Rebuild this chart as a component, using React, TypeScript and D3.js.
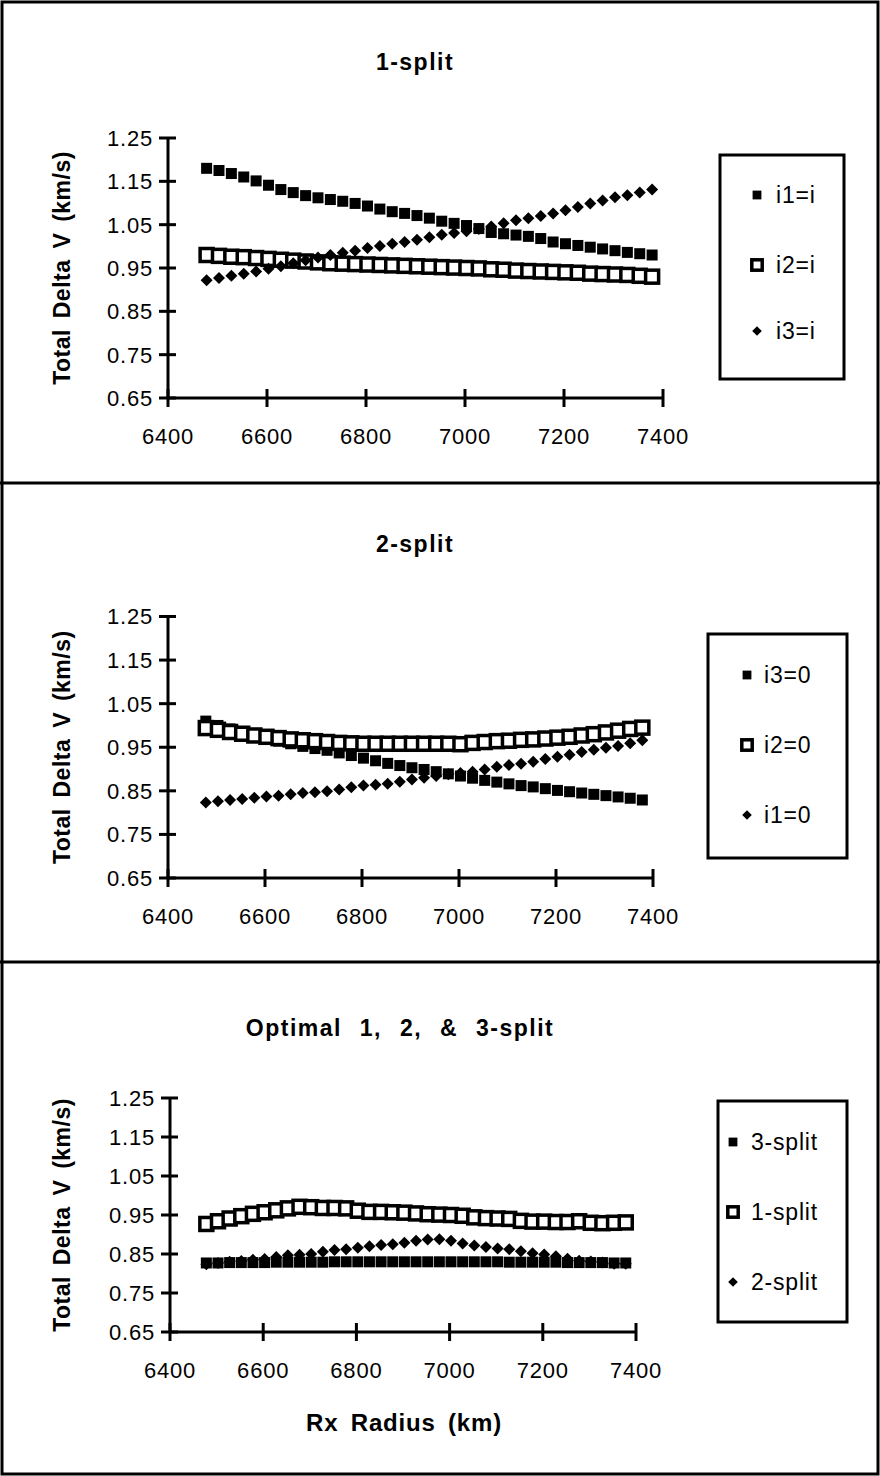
import React from 'react'
import * as d3 from 'd3'

const W = 880
const H = 1476
const FONT = "'Liberation Sans', Arial, Helvetica, sans-serif"

// Rx radius (km) of every sample, shared by all three panels
const radius = [
  6478, 6503, 6528, 6553, 6578, 6603, 6628, 6653, 6678, 6703, 6728, 6753, 6778,
  6803, 6828, 6853, 6878, 6903, 6928, 6953, 6978, 7003, 7028, 7053, 7078, 7103,
  7128, 7153, 7178, 7203, 7228, 7253, 7278, 7303, 7328, 7353, 7378,
]
const yTicks = [0.65, 0.75, 0.85, 0.95, 1.05, 1.15, 1.25]
const xTicks = [6400, 6600, 6800, 7000, 7200, 7400]

// 1-split
const i1EqI = [
  1.180, 1.175, 1.168, 1.160, 1.151, 1.141, 1.131, 1.124, 1.117, 1.112, 1.108, 1.104, 1.099,
  1.093, 1.086, 1.080, 1.076, 1.071, 1.065, 1.058, 1.053, 1.048, 1.041, 1.032, 1.029, 1.026,
  1.023, 1.018, 1.010, 1.006, 1.002, 0.998, 0.994, 0.990, 0.986, 0.983, 0.980,
]
const i2EqI = [
  0.980, 0.978, 0.976, 0.975, 0.973, 0.971, 0.969, 0.967, 0.965, 0.963, 0.961, 0.960, 0.959,
  0.958, 0.957, 0.956, 0.955, 0.954, 0.953, 0.952, 0.951, 0.950, 0.949, 0.947, 0.946, 0.944,
  0.943, 0.942, 0.941, 0.940, 0.939, 0.937, 0.936, 0.935, 0.934, 0.932, 0.930,
]
const i3EqI = [
  0.922, 0.927, 0.932, 0.937, 0.942, 0.948, 0.954, 0.961, 0.968, 0.974, 0.980, 0.985, 0.990,
  0.996, 1.001, 1.006, 1.010, 1.015, 1.021, 1.027, 1.031, 1.035, 1.040, 1.046, 1.053, 1.060,
  1.065, 1.070, 1.076, 1.083, 1.091, 1.099, 1.106, 1.113, 1.118, 1.124, 1.131,
]

// 2-split
const i3Zero = [
  1.010, 1.000, 0.992, 0.984, 0.977, 0.970, 0.964, 0.958, 0.952, 0.947, 0.943, 0.937, 0.931,
  0.925, 0.919, 0.913, 0.908, 0.903, 0.899, 0.894, 0.889, 0.884, 0.879, 0.874, 0.870, 0.866,
  0.862, 0.859, 0.855, 0.851, 0.848, 0.845, 0.842, 0.839, 0.836, 0.833, 0.829,
]
const i2Zero = [
  0.994, 0.990, 0.985, 0.981, 0.977, 0.974, 0.971, 0.968, 0.966, 0.964, 0.962, 0.960, 0.959,
  0.958, 0.958, 0.958, 0.958, 0.958, 0.958, 0.958, 0.958, 0.957, 0.960, 0.962, 0.964, 0.965,
  0.967, 0.968, 0.970, 0.972, 0.974, 0.977, 0.980, 0.984, 0.988, 0.992, 0.995,
]
const i1Zero = [
  0.823, 0.826, 0.829, 0.831, 0.834, 0.837, 0.839, 0.842, 0.845, 0.847, 0.849, 0.853, 0.858,
  0.862, 0.864, 0.866, 0.871, 0.876, 0.880, 0.884, 0.888, 0.891, 0.894, 0.899, 0.905, 0.909,
  0.912, 0.917, 0.923, 0.928, 0.933, 0.939, 0.944, 0.949, 0.953, 0.959, 0.966,
]

// Optimal 1, 2 & 3-split
const split3 = [
  0.827, 0.827, 0.828, 0.828, 0.828, 0.828, 0.829, 0.829, 0.829, 0.829, 0.829, 0.830, 0.830,
  0.830, 0.830, 0.830, 0.830, 0.830, 0.830, 0.830, 0.830, 0.830, 0.830, 0.830, 0.830, 0.830,
  0.829, 0.829, 0.829, 0.829, 0.829, 0.828, 0.828, 0.828, 0.828, 0.827, 0.827,
]
const split1 = [
  0.927, 0.934, 0.941, 0.947, 0.953, 0.957, 0.962, 0.967, 0.971, 0.970, 0.968, 0.968, 0.967,
  0.961, 0.958, 0.958, 0.957, 0.956, 0.954, 0.952, 0.951, 0.950, 0.948, 0.944, 0.942, 0.941,
  0.940, 0.935, 0.933, 0.933, 0.932, 0.932, 0.934, 0.930, 0.929, 0.930, 0.931,
]
const split2 = [
  0.824, 0.827, 0.830, 0.832, 0.835, 0.837, 0.842, 0.847, 0.848, 0.850, 0.856, 0.860, 0.862,
  0.866, 0.870, 0.873, 0.875, 0.879, 0.884, 0.887, 0.888, 0.884, 0.877, 0.872, 0.868, 0.864,
  0.862, 0.857, 0.852, 0.849, 0.844, 0.838, 0.833, 0.831, 0.828, 0.825, 0.825,
]

type Marker = 'filled' | 'hollow' | 'diamond'
type Series = { name: string; values: number[]; marker: Marker }

const panels = [
  {
    title: '1-split', titleX: 415, titleY: 70,
    left: 168, right: 663, top: 138, bottom: 398,
    legend: { x: 720, y: 155, w: 124, h: 224, mx: 757, tx: 776, rows: [195, 265, 331] },
    series: [
      { name: 'i1=i', values: i1EqI, marker: 'filled' },
      { name: 'i2=i', values: i2EqI, marker: 'hollow' },
      { name: 'i3=i', values: i3EqI, marker: 'diamond' },
    ] as Series[],
  },
  {
    title: '2-split', titleX: 415, titleY: 552,
    left: 168, right: 653, top: 616.5, bottom: 878,
    legend: { x: 708, y: 634, w: 139, h: 224, mx: 747, tx: 764, rows: [675, 745, 815] },
    series: [
      { name: 'i3=0', values: i3Zero, marker: 'filled' },
      { name: 'i2=0', values: i2Zero, marker: 'hollow' },
      { name: 'i1=0', values: i1Zero, marker: 'diamond' },
    ] as Series[],
  },
  {
    title: 'Optimal 1, 2, & 3-split', titleX: 400, titleY: 1036,
    left: 170, right: 636, top: 1098, bottom: 1332,
    legend: { x: 718, y: 1101, w: 129, h: 221, mx: 733, tx: 751, rows: [1142, 1212, 1282] },
    series: [
      { name: '3-split', values: split3, marker: 'filled' },
      { name: '1-split', values: split1, marker: 'hollow' },
      { name: '2-split', values: split2, marker: 'diamond' },
    ] as Series[],
  },
]

function Mark({ kind, x, y, s = 1 }: { kind: Marker; x: number; y: number; s?: number }) {
  if (kind === 'filled') {
    const a = 11 * s
    return <rect x={x - a / 2} y={y - a / 2} width={a} height={a} fill="black" />
  }
  if (kind === 'hollow') {
    const a = 13 * s
    return <rect x={x - a / 2} y={y - a / 2} width={a} height={a} fill="white" stroke="black" strokeWidth={3.5} />
  }
  const r = 6 * s
  return <path d={`M${x},${y - r}L${x + r},${y}L${x},${y + r}L${x - r},${y}Z`} fill="black" />
}

function Panel({ p }: { p: typeof panels[number] }) {
  const x = d3.scaleLinear().domain([6400, 7400]).range([p.left, p.right])
  const y = d3.scaleLinear().domain([0.65, 1.25]).range([p.bottom, p.top])
  const fmt = d3.format('.2f')
  const lg = p.legend
  return (
    <g>
      <text x={p.titleX} y={p.titleY} textAnchor="middle" fontWeight="bold" fontSize={23}
        letterSpacing={1.5} wordSpacing={p.title.length > 10 ? 10 : 0}>{p.title}</text>
      <text transform={`translate(70,${(p.top + p.bottom) / 2}) rotate(-90)`} textAnchor="middle"
        fontWeight="bold" fontSize={23} letterSpacing={0.5} wordSpacing={4}>Total Delta V (km/s)</text>

      {/* axes */}
      <line x1={p.left} x2={p.left} y1={y(1.25)} y2={y(0.65)} stroke="black" strokeWidth={3} />
      <line x1={p.left} x2={x(7400)} y1={p.bottom} y2={p.bottom} stroke="black" strokeWidth={3} />
      {yTicks.map(t => (
        <g key={t}>
          <line x1={p.left - 9} x2={p.left + 8} y1={y(t)} y2={y(t)} stroke="black" strokeWidth={3} />
          <text x={p.left - 15} y={y(t)} dy="0.36em" textAnchor="end" fontSize={22} letterSpacing={0.8}>{fmt(t)}</text>
        </g>
      ))}
      {xTicks.map(t => (
        <g key={t}>
          <line x1={x(t)} x2={x(t)} y1={p.bottom - 9} y2={p.bottom + 9} stroke="black" strokeWidth={3} />
          <text x={x(t)} y={p.bottom + 46} textAnchor="middle" fontSize={22} letterSpacing={0.8}>{t}</text>
        </g>
      ))}

      {/* data */}
      {p.series.map(s => (
        <g key={s.name}>
          {s.values.map((v, i) => <Mark key={i} kind={s.marker} x={x(radius[i])} y={y(v)} />)}
        </g>
      ))}

      {/* legend */}
      <rect x={lg.x} y={lg.y} width={lg.w} height={lg.h} fill="none" stroke="black" strokeWidth={3} />
      {p.series.map((s, i) => (
        <g key={s.name}>
          <Mark kind={s.marker} x={lg.mx} y={lg.rows[i]} s={0.8} />
          <text x={lg.tx} y={lg.rows[i]} dy="0.36em" fontSize={23} letterSpacing={0.8}>{s.name}</text>
        </g>
      ))}
    </g>
  )
}

export default function App() {
  return (
    <svg width={W} height={H} style={{ position: 'absolute', left: 0, top: 0, background: 'white' }}
      fontFamily={FONT}>
      <rect x={2} y={2} width={W - 4} height={H - 4} fill="white" stroke="black" strokeWidth={3} />
      <line x1={0} x2={W} y1={483} y2={483} stroke="black" strokeWidth={3} />
      <line x1={0} x2={W} y1={962} y2={962} stroke="black" strokeWidth={3} />
      {panels.map(p => <Panel key={p.title} p={p} />)}
      <text x={404} y={1431} textAnchor="middle" fontWeight="bold" fontSize={24} letterSpacing={0.8}
        wordSpacing={5}>Rx Radius (km)</text>
    </svg>
  )
}
